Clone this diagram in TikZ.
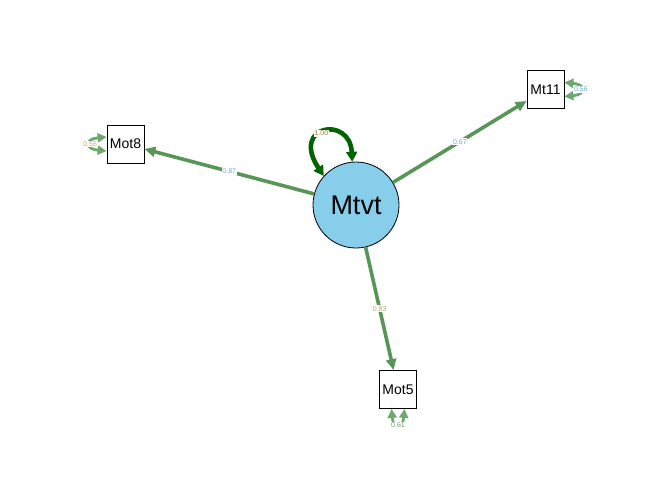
\documentclass[tikz,border=0pt]{standalone}
\usepackage{fontspec}
\setmainfont{Liberation Sans}
\usetikzlibrary{arrows.meta}

\definecolor{pathgreen}{RGB}{88,150,88}
\definecolor{resgreen}{RGB}{110,168,110}
\definecolor{loopgreen}{RGB}{0,100,0}
\definecolor{latfill}{RGB}{135,206,235}
\definecolor{lblblue}{RGB}{115,170,195}
\definecolor{lblkhaki}{RGB}{185,172,90}
\definecolor{lblgreen}{RGB}{110,155,110}
\definecolor{lblolive}{RGB}{140,125,30}

\begin{document}
\begin{tikzpicture}[x=1pt,y=-1pt,
  latent/.style={circle,draw=black,line width=0.8pt,fill=latfill,minimum size=86pt,inner sep=0pt,font=\fontsize{27}{27}\selectfont},
  manifest/.style={rectangle,draw=black,line width=0.8pt,fill=white,minimum width=37pt,minimum height=38pt,inner sep=0pt,font=\fontsize{14}{14}\selectfont},
  load/.style={draw=pathgreen,line width=3.6pt,-{Triangle[length=11pt,width=10pt]}},
  resid/.style={draw=resgreen,line width=2.8pt,{Triangle[length=9pt,width=9pt]}-{Triangle[length=9pt,width=9pt]}},
  latloop/.style={draw=loopgreen,line width=4.6pt,{Triangle[length=10pt,width=11pt]}-{Triangle[length=10pt,width=11pt]}},
  lbl/.style={fill=white,inner sep=0.8pt,font=\fontsize{7}{7}\selectfont}]
\useasboundingbox (0,0) rectangle (672,480);

\node[latent] (Mtvt) at (356,205) {Mtvt};
\node[manifest] (Mot8) at (125.5,144) {Mot8};
\node[manifest] (Mt11) at (545.5,89.5) {Mt11};
\node[manifest] (Mot5) at (398,389.5) {Mot5};

\path
(Mtvt) edge [load] node[lbl,text=lblblue] {0.87} (Mot8)
(Mtvt) edge [load] node[lbl,text=lblblue] {0.67} (Mt11)
(Mtvt) edge [load] node[lbl,text=lblkhaki] {0.83} (Mot5)
; %end path

% residuals
\draw[resid] ([yshift=7pt]Mot8.west) .. controls +(-22,2) and +(-22,-2) .. node[lbl,text=lblkhaki] {0.55} ([yshift=-7pt]Mot8.west);
\draw[resid] ([yshift=7pt]Mt11.east) .. controls +(22,2) and +(22,-2) .. node[lbl,text=lblblue] {0.56} ([yshift=-7pt]Mt11.east);
\draw[resid] ([xshift=-6.5pt]Mot5.south) .. controls +(2,22) and +(-2,22) .. node[lbl,text=lblgreen] {0.61} ([xshift=6.5pt]Mot5.south);
\draw[latloop] (Mtvt.95) .. controls (350,115) and (290,125) .. node[lbl,text=lblolive,pos=0.55] {1.00} (Mtvt.138);
\end{tikzpicture}
\end{document}
